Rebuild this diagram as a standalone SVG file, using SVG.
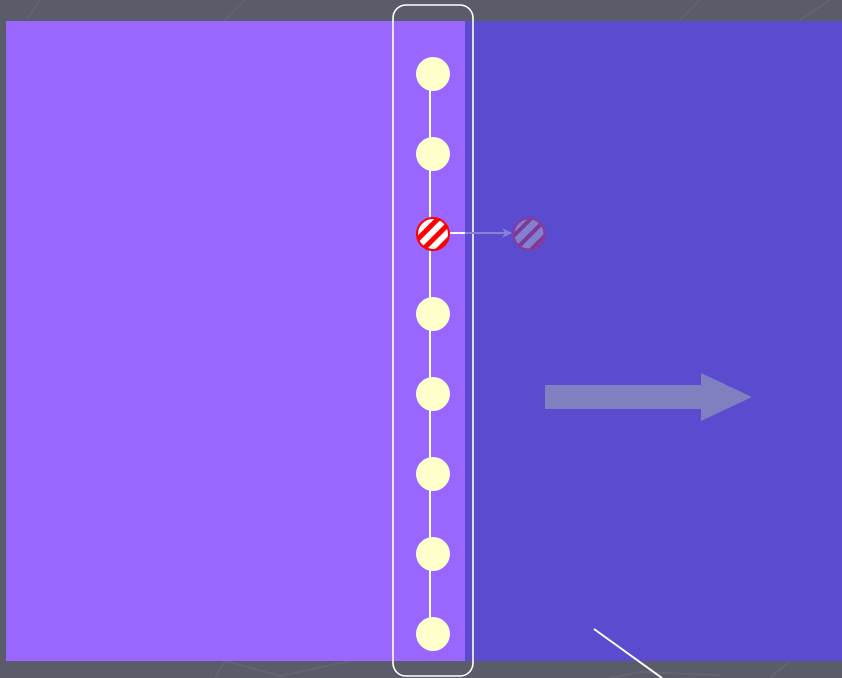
<svg xmlns="http://www.w3.org/2000/svg" width="842" height="678" viewBox="0 0 842 678">
<style>
.node{fill:#ffffcc}
.link{stroke:#ffffff;stroke-width:2}
.bgline{stroke:#666876;stroke-width:2;fill:none}
</style>
<defs>
<pattern id="hatch" patternUnits="userSpaceOnUse" width="11" height="11" patternTransform="rotate(-45)">
<rect width="11" height="11" fill="#ffffff"/>
<rect width="11" height="5" fill="#ff0000"/>
</pattern>
<pattern id="hatch2" patternUnits="userSpaceOnUse" width="11" height="11" patternTransform="rotate(-45)">
<rect width="11" height="11" fill="#8480d0"/>
<rect width="11" height="4" fill="#7a3a9a"/>
</pattern>
<marker id="ah" markerWidth="10" markerHeight="10" refX="9" refY="5" orient="auto" markerUnits="userSpaceOnUse">
<path d="M0,0 L10,5 L0,10 L3,5 Z" fill="#8a80d6"/>
</marker>
</defs>
<rect width="842" height="678" fill="#5a5c6a"/>
<g id="background-lines" opacity="0.7">
<path class="bgline" d="M28,18 L40,0"/>
<path class="bgline" d="M225,20 L245,0"/>
<path class="bgline" d="M680,20 L700,0"/>
<path class="bgline" d="M800,20 L830,0"/>
<path class="bgline" d="M215,678 L225,661 L280,676 L350,661"/>
<path class="bgline" d="M610,678 L640,672 L720,675"/>
<path class="bgline" d="M770,678 L790,661"/>
</g>
<rect id="left-panel" x="6" y="21" width="459" height="640" fill="#9966ff"/>
<rect id="right-panel" x="465" y="21" width="377" height="640" fill="#5b4bcf"/>
<polygon id="big-arrow" points="545,385 701,385 701,373 752,397 701,421 701,409 545,409" fill="#8080c0"/>
<line id="stray-line" x1="594" y1="629" x2="662" y2="678" stroke="#ffffff" stroke-width="2"/>
<rect id="column-frame" x="393" y="5" width="80" height="671" rx="13" fill="none" stroke="#ffffff" stroke-width="1.6"/>
<g id="connectors">
<line class="link" x1="430" y1="74" x2="430" y2="634"/>
<line x1="450" y1="233" x2="465" y2="233" stroke="#ffffff" stroke-width="2"/>
<line x1="465" y1="233" x2="511" y2="233" stroke="#8a80d6" stroke-width="2" marker-end="url(#ah)"/>
</g>
<g id="n1"><circle class="node" cx="433" cy="74" r="17"/></g>
<g id="n2"><circle class="node" cx="433" cy="154" r="17"/></g>
<g id="n3"><circle cx="433" cy="234" r="16" fill="url(#hatch)" stroke="#ff0000" stroke-width="2"/></g>
<g id="n4"><circle class="node" cx="433" cy="314" r="17"/></g>
<g id="n5"><circle class="node" cx="433" cy="394" r="17"/></g>
<g id="n6"><circle class="node" cx="433" cy="474" r="17"/></g>
<g id="n7"><circle class="node" cx="433" cy="554" r="17"/></g>
<g id="n8"><circle class="node" cx="433" cy="634" r="17"/></g>
<g id="ghost"><circle cx="529" cy="234" r="15.5" fill="url(#hatch2)" stroke="#8a3a9a" stroke-width="2"/></g>
</svg>
